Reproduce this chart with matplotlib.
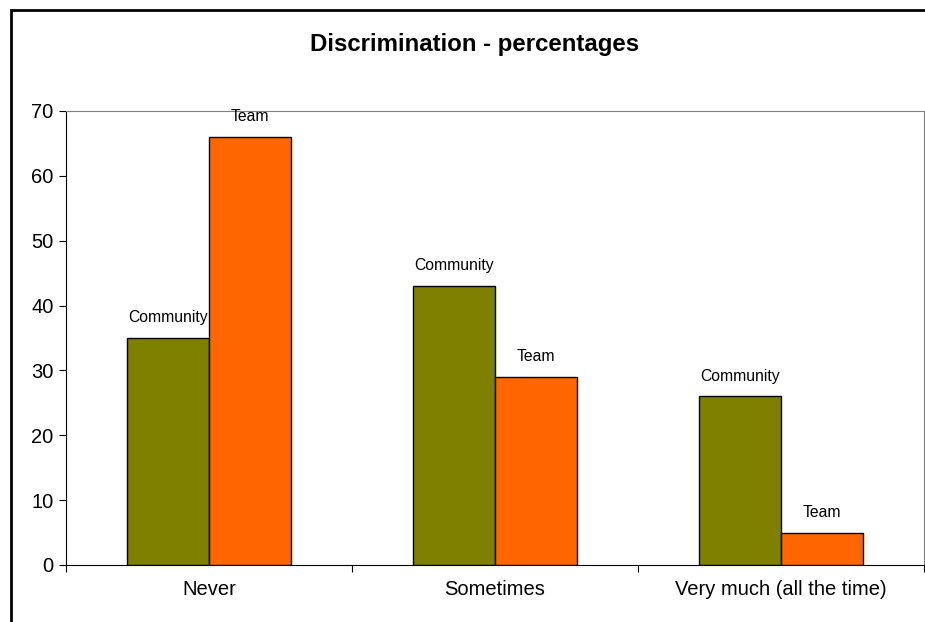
import matplotlib
matplotlib.use("Agg")
import matplotlib.pyplot as plt
from matplotlib.patches import Rectangle
import numpy as np

plt.rcParams['font.family'] = ['Liberation Sans', 'DejaVu Sans']

categories = ["Never", "Sometimes", "Very much (all the time)"]
community = [35, 43, 26]
team = [66, 29, 5]
series_names = ["Community", "Team"]
title = "Discrimination - percentages"

fig = plt.figure(figsize=(9.25, 6.22), dpi=100)
ax = fig.add_axes([66/925, 1-565/622, (924-66)/925, (565-111)/622])

x = np.arange(len(categories)) + 0.5
w = 0.287
b1 = ax.bar(x - w/2, community, w, color='#808000', edgecolor='black', linewidth=1)
b2 = ax.bar(x + w/2, team, w, color='#FF6600', edgecolor='black', linewidth=1)

for bars, name in ((b1, series_names[0]), (b2, series_names[1])):
    for r in bars:
        ax.annotate(name, (r.get_x() + r.get_width()/2, r.get_height()),
                    xytext=(0, 14.5), textcoords='offset points',
                    ha='center', va='center', fontsize=11.3)

ax.set_xlim(0, 3)
ax.set_ylim(0, 70)
ax.set_yticks(range(0, 71, 10))
ax.set_yticklabels([str(v) for v in range(0, 71, 10)], fontsize=14.5)
ax.set_xticks([0, 1, 2, 3])
ax.set_xticklabels([])
ax.set_xticks(x, minor=True)
ax.set_xticklabels(categories, minor=True, fontsize=14.5)
ax.tick_params(axis='x', which='minor', length=0, pad=11)
ax.tick_params(axis='x', which='major', length=5, direction='out')
ax.tick_params(axis='y', length=5, direction='out', pad=4)
for s in ('top', 'right'):
    ax.spines[s].set_color('#808080')
for s in ('left', 'bottom'):
    ax.spines[s].set_color('black')

fig.text(475/925, 1-45/622, title, ha='center', va='center', fontsize=17.3, fontweight='bold')

fig.patches.append(Rectangle((11/925, -0.1), 1.2, 1 - 10/622 + 0.1, transform=fig.transFigure,
                             fill=False, edgecolor='black', linewidth=2))

fig.savefig("out.png", dpi=100)
